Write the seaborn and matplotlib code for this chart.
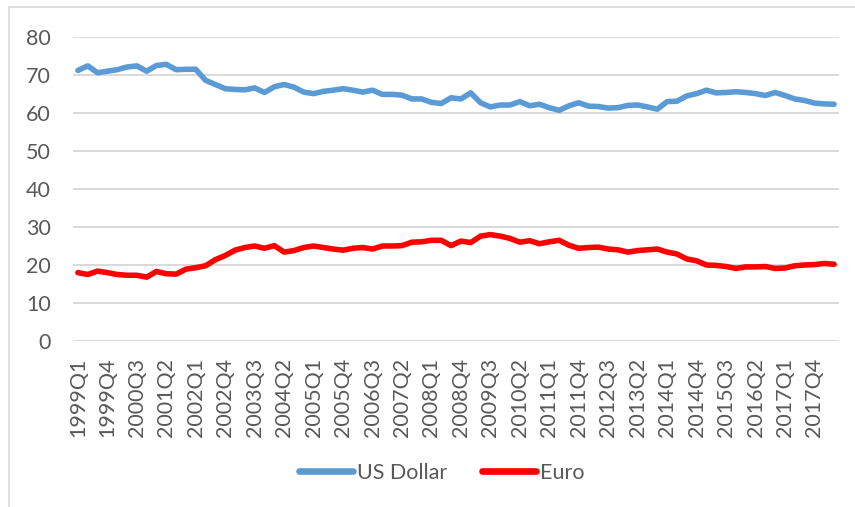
import matplotlib.pyplot as plt
from matplotlib.lines import Line2D
import seaborn as sns
import pandas as pd

# quarters 1999Q1 .. 2018Q2
quarters = [f"{y}Q{q}" for y in range(1999, 2019) for q in range(1, 5)][:78]

us_dollar = [71.2, 72.4, 70.6, 71.0, 71.4, 72.1, 72.4, 71.0, 72.5, 72.8,
             71.4, 71.5, 71.5, 68.6, 67.5, 66.4, 66.2, 66.1, 66.6, 65.4,
             66.9, 67.5, 66.8, 65.5, 65.1, 65.7, 66.0, 66.4, 66.0, 65.5,
             66.0, 64.9, 64.9, 64.7, 63.7, 63.7, 62.8, 62.5, 64.0, 63.7,
             65.3, 62.7, 61.6, 62.1, 62.1, 63.0, 61.9, 62.3, 61.4, 60.7,
             61.9, 62.7, 61.8, 61.7, 61.3, 61.4, 62.0, 62.1, 61.6, 61.0,
             63.0, 63.1, 64.5, 65.1, 66.0, 65.3, 65.4, 65.6, 65.4, 65.1,
             64.6, 65.4, 64.6, 63.7, 63.3, 62.6, 62.4, 62.3]

euro = [18.0, 17.5, 18.4, 18.0, 17.5, 17.3, 17.3, 16.8, 18.3, 17.7,
        17.6, 18.9, 19.3, 19.8, 21.4, 22.5, 23.9, 24.6, 25.0, 24.4,
        25.1, 23.4, 23.8, 24.6, 25.0, 24.6, 24.2, 23.9, 24.4, 24.6,
        24.2, 25.0, 25.0, 25.1, 26.0, 26.1, 26.5, 26.5, 25.1, 26.3,
        25.9, 27.6, 28.0, 27.6, 27.0, 26.0, 26.4, 25.6, 26.1, 26.5,
        25.2, 24.4, 24.6, 24.7, 24.2, 24.0, 23.4, 23.8, 24.0, 24.2,
        23.4, 22.9, 21.6, 21.1, 20.0, 19.9, 19.6, 19.1, 19.5, 19.5,
        19.6, 19.1, 19.2, 19.8, 20.0, 20.1, 20.4, 20.2]

series_names = ["US Dollar", "Euro"]
colors = ["#5B9BD5", "#FF0000"]

df = pd.DataFrame({
    "quarter": quarters * 2,
    "share": us_dollar + euro,
    "currency": [series_names[0]] * len(quarters) + [series_names[1]] * len(quarters),
})

sns.set_style("white")
plt.rcParams["font.family"] = ["Lato", "DejaVu Sans"]

fig = plt.figure(figsize=(8.55, 5.07), dpi=100)
ax = fig.add_axes([73 / 855, 1 - 341 / 507, 766 / 855, 304 / 507])

sns.lineplot(data=df, x="quarter", y="share", hue="currency",
             palette=dict(zip(series_names, colors)), sort=False,
             linewidth=4.0, ax=ax, legend=False)

ax.set_xlim(-0.5, len(quarters) - 0.5)
ax.set_ylim(0, 80)
ax.set_yticks(range(0, 81, 10))
ax.set_xticks(range(0, len(quarters), 3))
ax.set_xticklabels(quarters[::3], rotation=90)
ax.grid(axis="y", color="#D9D9D9", linewidth=1.4)
ax.set_axisbelow(True)
for s in ax.spines.values():
    s.set_visible(False)
ax.tick_params(axis="y", length=0, pad=16, labelsize=15.5, labelcolor="#595959")
ax.tick_params(axis="x", length=0, pad=12, labelsize=15.5, labelcolor="#595959")
ax.set_xlabel("")
ax.set_ylabel("")

handles = [Line2D([0], [0], color=c, linewidth=4.8, solid_capstyle="round") for c in colors]
fig.legend(handles, series_names, loc="center", bbox_to_anchor=(442 / 855, 1 - 473 / 507),
           ncol=2, frameon=False, fontsize=15.5, labelcolor="#595959",
           handlelength=2.5, handletextpad=0.2, columnspacing=1.6)

# chart border (top and left edges visible in the crop)
fig.add_artist(Line2D([9 / 855, 1], [1 - 7 / 507] * 2, color="#D9D9D9", linewidth=1.2))
fig.add_artist(Line2D([9 / 855] * 2, [0, 1 - 7 / 507], color="#D9D9D9", linewidth=1.2))

fig.savefig("out.png", dpi=100)
